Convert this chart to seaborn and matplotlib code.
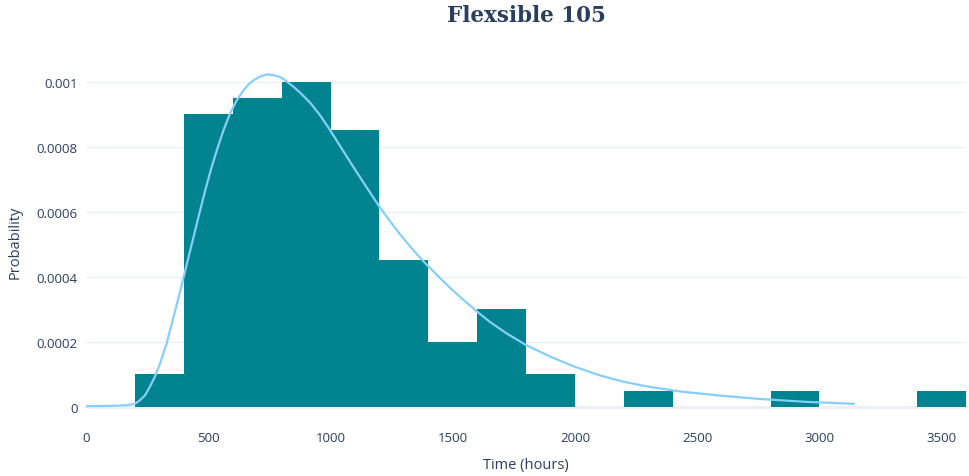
import numpy as np
import pandas as pd
import matplotlib
matplotlib.use("Agg")
import matplotlib.pyplot as plt
import seaborn as sns

# histogram: bin edges (hours) and probability density per bin
bin_edges = [200, 400, 600, 800, 1000, 1200, 1400, 1600, 1800, 2000,
             2200, 2400, 2600, 2800, 3000, 3200, 3400, 3600]
bin_prob = [0.0001, 0.0009, 0.00095, 0.001, 0.00085, 0.00045, 0.0002, 0.0003,
            0.0001, 0.0, 0.00005, 0.0, 0.0, 0.00005, 0.0, 0.0, 0.00005]

# fitted density curve
curve_x = [0, 100, 139, 170, 200, 220, 241, 260, 282, 305, 330, 360, 391, 415,
           439, 463, 487, 511, 535, 562, 589, 616, 644, 665, 685, 712, 740,
           767, 794, 820, 849, 880, 917, 958, 999, 1045, 1094, 1145, 1197,
           1241, 1285, 1336, 1388, 1440, 1490, 1545, 1599, 1654, 1720, 1797,
           1900, 2000, 2100, 2199, 2300, 2431, 2600, 2759, 2950, 3141]
curve_y = [0.000002, 0.000003, 0.000004, 0.000005, 0.000009, 0.00002,
           0.000035, 0.00006, 0.000093, 0.000138, 0.000196, 0.000282,
           0.000374, 0.000447, 0.00052, 0.000593, 0.000664, 0.00073,
           0.000789, 0.00085, 0.000902, 0.000942, 0.000973, 0.000992,
           0.001004, 0.001016, 0.001022, 0.00102, 0.001014, 0.001001,
           0.000984, 0.000963, 0.000935, 0.000896, 0.00085, 0.000795,
           0.000737, 0.000678, 0.000619, 0.000573, 0.00053, 0.000484,
           0.000441, 0.000402, 0.000365, 0.000328, 0.000293, 0.00026,
           0.000226, 0.000191, 0.000154, 0.000123, 0.000097, 0.000077,
           0.000062, 0.000047, 0.000034, 0.000024, 0.000015, 0.0000092]

x_ticks = [0, 500, 1000, 1500, 2000, 2500, 3000, 3500]
y_ticks = [0, 0.0002, 0.0004, 0.0006, 0.0008, 0.001]
y_tick_labels = ["0", "0.0002", "0.0004", "0.0006", "0.0008", "0.001"]

TEXT = "#2a3f5f"
GRID = "#ebf0f8"

sns.set_style("white")
plt.rcParams["font.family"] = ["Open Sans", "DejaVu Sans"]

fig = plt.figure(figsize=(9.69, 4.77), dpi=100)
ax = fig.add_axes([0.0888, 0.1195, 0.9082, 0.7465])

bin_centers = [(a + b) / 2 for a, b in zip(bin_edges[:-1], bin_edges[1:])]
hist_df = pd.DataFrame({"t": bin_centers, "p": bin_prob})
sns.histplot(data=hist_df, x="t", weights="p", bins=bin_edges, stat="count",
             color="#028490", alpha=1, linewidth=0, ax=ax, zorder=2)

curve_df = pd.DataFrame({"t": curve_x, "p": curve_y})
sns.lineplot(data=curve_df, x="t", y="p", color="#87cefa", linewidth=1.6,
             ax=ax, zorder=3)

ax.set_xlim(0, 3600)
ax.set_ylim(-0.0000375, 0.0010575)
ax.set_xticks(x_ticks)
ax.set_xticklabels([str(v) for v in x_ticks])
ax.set_yticks(y_ticks)
ax.set_yticklabels(y_tick_labels)
ax.tick_params(axis="both", length=0, labelsize=9.5, labelcolor=TEXT)
ax.tick_params(axis="x", pad=9)
ax.tick_params(axis="y", pad=6)

ax.grid(axis="y", color=GRID, linewidth=1, zorder=0)
ax.grid(axis="x", visible=False)
ax.axhline(0, color=GRID, linewidth=2, zorder=1)
for s in ax.spines.values():
    s.set_visible(False)

ax.set_xlabel("Time (hours)", fontsize=10.5, color=TEXT, labelpad=9)
ax.set_ylabel("Probability", fontsize=10.5, color=TEXT, labelpad=10)
ax.set_title("Flexsible 105", fontsize=15.5, color=TEXT, fontweight="bold",
             family=["DejaVu Serif"], pad=30)

fig.savefig("out.png", dpi=100, facecolor="white")
